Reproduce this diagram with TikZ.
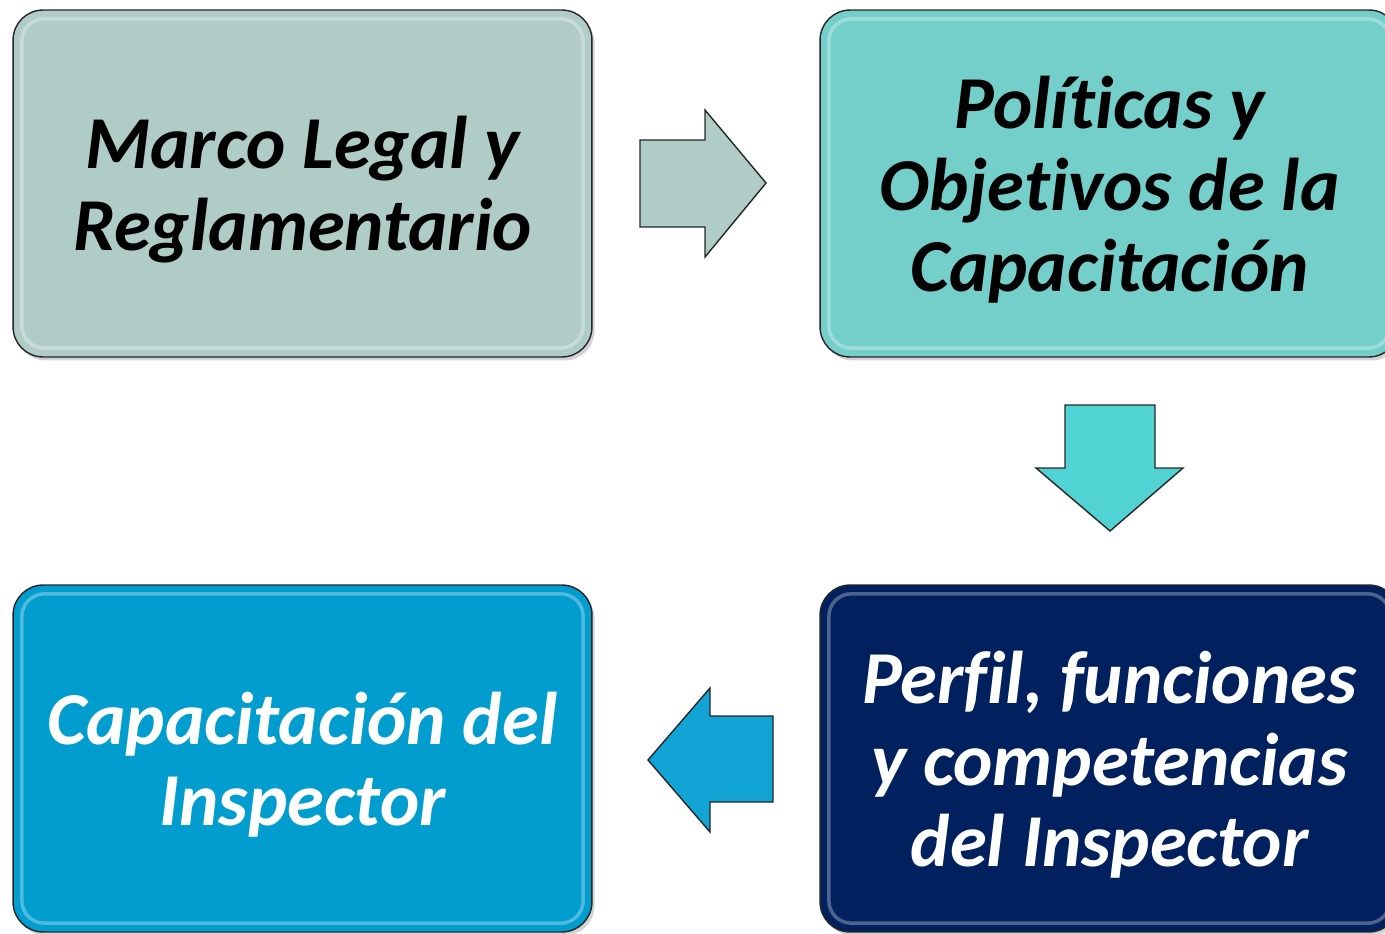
\documentclass[tikz,border=0pt]{standalone}
\usepackage{fontspec}
\setmainfont{Carlito}[Ligatures=NoCommon]
\usetikzlibrary{shadows}

\definecolor{marcoGris}{HTML}{B0CCC6}
\definecolor{politTeal}{HTML}{74CEC9}
\definecolor{capaAzul}{HTML}{029DCF}
\definecolor{perfilNavy}{HTML}{00205E}
\definecolor{flechaTeal}{HTML}{52D3D3}
\definecolor{flechaAzul}{HTML}{12A4D4}
\newcommand{\altura}{\rule{0pt}{1.3cm}}

\begin{document}
\begin{tikzpicture}[x=0.02cm, y=-0.02cm,
  caja/.style={draw=black!85, line width=0.8pt, rounded corners=0.6cm,
    minimum width=11.58cm, minimum height=6.94cm, align=center,
    font=\fontsize{42.5}{46.5}\selectfont\bfseries\itshape,
    drop shadow={shadow xshift=1.5pt, shadow yshift=-2pt, opacity=.35},
    path picture={\draw[white, opacity=.3, line width=2pt, rounded corners=0.45cm]
      ([shift={(5pt,-5pt)}]path picture bounding box.north west) rectangle
      ([shift={(-5pt,5pt)}]path picture bounding box.south east);}},
  flecha/.style={draw=black!85, line width=0.8pt, line join=miter}]
  \useasboundingbox (0,0) rectangle (1385,933);

  % Cajas
  \node[caja, fill=marcoGris] (marco) at (302.5,183.5) {\altura Marco Legal y\\Reglamentario};
  \node[caja, fill=politTeal] (politicas) at (1109.5,183.5) {\altura Políticas y\\Objetivos de la\\Capacitación};
  \node[caja, fill=perfilNavy, text=white] (perfil) at (1109.5,758.5) {\altura Perfil, funciones\\y competencias\\del Inspector};
  \node[caja, fill=capaAzul, text=white] (capacitacion) at (302.5,758.5) {\altura Capacitación del\\Inspector};

  % Flechas
  \draw[flecha, fill=marcoGris] (640,140) -- (705,140) -- (705,110) -- (766,183)
    -- (705,257) -- (705,227) -- (640,227) -- cycle;
  \draw[flecha, fill=flechaTeal] (1065,405) -- (1155,405) -- (1155,468) -- (1183,468)
    -- (1110,531) -- (1036,468) -- (1065,468) -- cycle;
  \draw[flecha, fill=flechaAzul] (773,716) -- (710,716) -- (710,688) -- (648,760)
    -- (710,832) -- (710,802) -- (773,802) -- cycle;
\end{tikzpicture}
\end{document}
